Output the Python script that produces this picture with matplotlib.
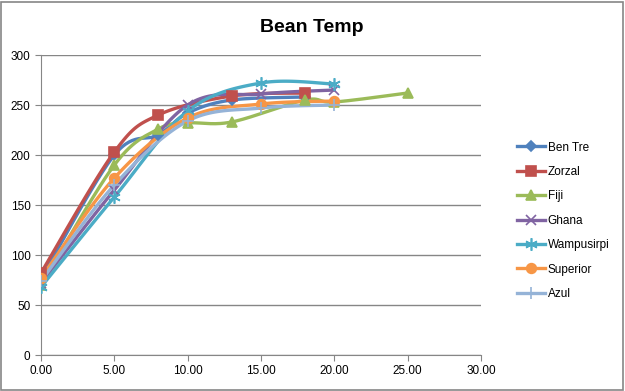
import numpy as np
import matplotlib.pyplot as plt

# roast curves, time (min) vs bean temp
names = ["Ben Tre", "Zorzal", "Fiji", "Ghana", "Wampusirpi", "Superior", "Azul"]
ben_tre_x = [0, 5, 8, 10, 13, 18]
ben_tre_y = [76, 200, 220, 242, 255, 258]
zorzal_x = [0, 5, 8, 13, 18]
zorzal_y = [82, 203, 240, 259, 262]
fiji_x = [0, 5, 8, 10, 13, 18, 20, 25]
fiji_y = [70, 190, 226, 232, 233, 255, 253, 262]
ghana_x = [0, 5, 10, 15, 20]
ghana_y = [72, 165, 250, 261, 265]
wamp_x = [0, 5, 10, 15, 20]
wamp_y = [68, 158, 244, 272, 271]
superior_x = [0, 5, 10, 15, 20]
superior_y = [77, 177, 237, 251, 254]
azul_x = [0, 5, 10, 15, 20]
azul_y = [74, 170, 234, 247, 250]

xs = [ben_tre_x, zorzal_x, fiji_x, ghana_x, wamp_x, superior_x, azul_x]
ys = [ben_tre_y, zorzal_y, fiji_y, ghana_y, wamp_y, superior_y, azul_y]
colors = ["#4F81BD", "#C0504D", "#9BBB59", "#8064A2", "#4BACC6", "#F79646", "#95B3D7"]
markers = ["D", "s", "^", "x", (6, 2, 0), "o", "+"]
msizes = [5, 7, 7, 7, 9, 7, 9]


def smooth(x, y, n=30):
    # excel-style smoothed line (bezier through points)
    p = np.column_stack([x, y]).astype(float)
    out = [p[0]]
    t = np.linspace(0, 1, n)[1:, None]
    for i in range(len(p) - 1):
        p0 = p[i - 1] if i > 0 else p[i]
        p1, p2 = p[i], p[i + 1]
        p3 = p[i + 2] if i + 2 < len(p) else p[i + 1]
        c1 = p1 + (p2 - p0) / 6
        c2 = p2 - (p3 - p1) / 6
        seg = ((1 - t) ** 3) * p1 + 3 * ((1 - t) ** 2) * t * c1 + 3 * (1 - t) * t ** 2 * c2 + t ** 3 * p2
        out.extend(seg)
    out = np.array(out)
    return out[:, 0], out[:, 1]


plt.rcParams['font.family'] = ['Liberation Sans', 'DejaVu Sans']

fig = plt.figure(figsize=(6.25, 3.91), dpi=100)
ax = fig.add_axes([41 / 625, 36 / 391, 440 / 625, 300 / 391])

for name, x, y, c, m, ms in zip(names, xs, ys, colors, markers, msizes):
    sx, sy = smooth(x, y)
    ax.plot(sx, sy, color=c, lw=2.4, solid_capstyle='round', zorder=2)
    ax.plot(x, y, linestyle='none', marker=m, color=c, ms=ms, mew=1.2, zorder=3)
    ax.plot([], [], color=c, lw=2.4, marker=m, ms=ms, mew=1.2, label=name)

ax.set_xlim(0, 30)
ax.set_ylim(0, 300)
ax.set_xticks(np.arange(0, 31, 5))
ax.set_xticklabels([f"{v:.2f}" for v in np.arange(0, 31, 5)])
ax.set_yticks(np.arange(0, 301, 50))
ax.grid(axis='y', color='#868686', lw=1)
ax.set_axisbelow(True)
for s in ['top', 'right']:
    ax.spines[s].set_visible(False)
for s in ['left', 'bottom']:
    ax.spines[s].set_color('#868686')
ax.tick_params(colors='#868686', labelcolor='black', labelsize=8.5, length=4)

fig.text(0.498, 0.93, "Bean Temp", ha='center', va='center', fontsize=14, fontweight='bold')

leg = fig.legend(loc='upper left', bbox_to_anchor=(0.81, 0.665), frameon=False,
                 fontsize=8.5, handlelength=2.4, labelspacing=1.05, handletextpad=0.2)

# outer chart border
fig.patches.append(plt.Rectangle((0.002, 0.003), 0.995, 0.993, transform=fig.transFigure,
                                 fill=False, edgecolor='#868686', lw=1.2))

fig.savefig("out.png", dpi=100)
